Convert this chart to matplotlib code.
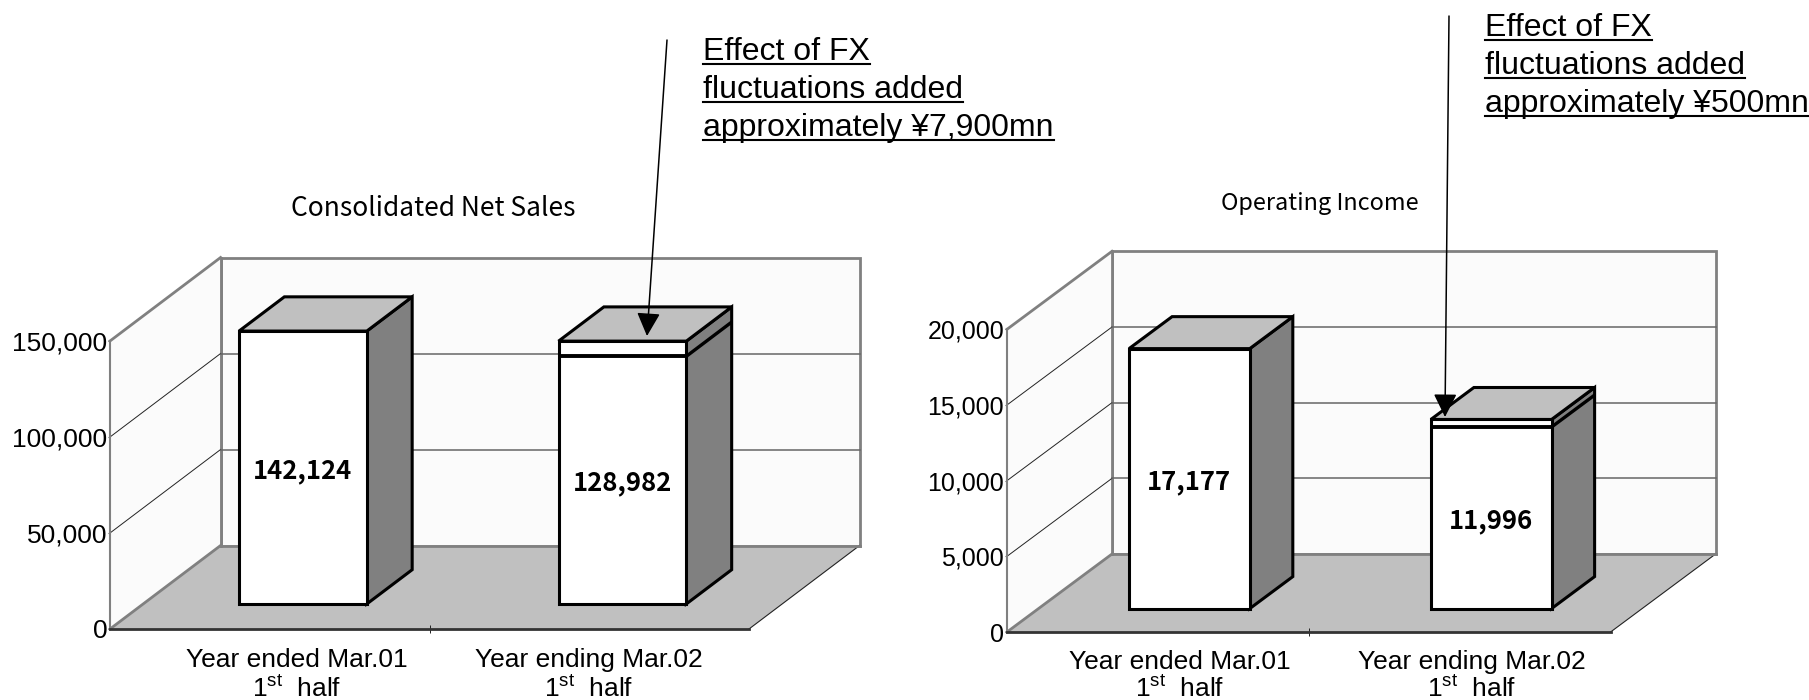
import matplotlib
matplotlib.use("Agg")
import matplotlib.pyplot as plt
from matplotlib.patches import Polygon

plt.rcParams['font.family'] = ['Liberation Sans', 'DejaVu Sans']
plt.rcParams['mathtext.fontset'] = 'custom'
plt.rcParams['mathtext.rm'] = 'Liberation Sans'

WIDTH, HEIGHT = 1809, 700

categories = ["Year ended Mar.01", "Year ending Mar.02"]
sales_base = [142124, 128982]
sales_fx = [0, 7900]
sales_ticks = [0, 50000, 100000, 150000]
income_base = [17177, 11996]
income_fx = [0, 500]
income_ticks = [0, 5000, 10000, 15000, 20000]

WALL = '#fbfbfb'
FLOOR = '#c0c0c0'
SIDE = '#808080'
EDGE = '#808080'
CJK = ['Noto Sans CJK JP', 'DejaVu Sans']

fig = plt.figure(figsize=(WIDTH / 100, HEIGHT / 100), dpi=100, facecolor='white')


def fig_xy(px, py):
    # pixel position measured from the top left corner
    return px / WIDTH, 1 - py / HEIGHT


def make_chart(base, fx, ticks, left, right_front, right_back, y0, y_top_tick, y_wall_top, depth_y, tick_size):
    vmax = ticks[-1]
    px_per_value = (y0 - y_top_tick) / vmax
    px_per_cat = (right_front - left) / 2
    ax = fig.add_axes([left / WIDTH, 1 - y0 / HEIGHT, (right_back - left) / WIDTH, (y0 - y_wall_top) / HEIGHT])
    ax.set_xlim(0, (right_back - left) / px_per_cat)
    ax.set_ylim(0, (y0 - y_wall_top) / px_per_value)
    ax.patch.set_visible(False)

    # oblique projection: depth 0 is the front plane, depth 1 the back wall
    dx = (right_back - right_front) / px_per_cat
    dy = depth_y / px_per_value

    def pt(x, v, d):
        return x + d * dx, v + d * dy

    def face(points, fc, ec='none', lw=0, z=1):
        ax.add_patch(Polygon([pt(*p) for p in points], closed=True, facecolor=fc, edgecolor=ec,
                             linewidth=lw, zorder=z, joinstyle='miter', clip_on=False))

    def seg(a, b, color, lw, z=2, cap='projecting'):
        pa, pb = pt(*a), pt(*b)
        ax.plot([pa[0], pb[0]], [pa[1], pb[1]], color=color, lw=lw, zorder=z, clip_on=False,
                solid_capstyle=cap)

    # walls and floor
    face([(0, 0, 1), (2, 0, 1), (2, vmax, 1), (0, vmax, 1)], WALL, EDGE, 2.0)
    face([(0, 0, 0), (0, 0, 1), (0, vmax, 1), (0, vmax, 0)], WALL)
    face([(0, 0, 0), (2, 0, 0), (2, 0, 1), (0, 0, 1)], FLOOR)
    seg((0, 0, 0), (0, 0, 1), EDGE, 2.0)
    seg((0, vmax, 0), (0, vmax, 1), EDGE, 2.0)
    seg((0, 0, 1), (0, vmax, 1), EDGE, 2.0)
    seg((2, 0, 0), (2, 0, 1), '#222222', 0.8)
    seg((0, 0, 1), (2, 0, 1), EDGE, 2.0)

    for t in ticks[1:-1]:
        seg((0, t, 0), (0, t, 1), '#222222', 0.7)
        seg((0, t, 1), (2, t, 1), '#666666', 1.1)

    # bars, with the FX part stacked on top of the base value
    bar_w = 0.4
    d0, d1 = 0.30, 0.71
    for i in range(2):
        xl = i + 0.5 - bar_w / 2
        xr = i + 0.5 + bar_w / 2
        total = base[i] + fx[i]
        face([(xr, 0, d0), (xr, 0, d1), (xr, total, d1), (xr, total, d0)], SIDE, 'black', 2.2, 4)
        face([(xl, total, d0), (xr, total, d0), (xr, total, d1), (xl, total, d1)], FLOOR, 'black', 2.2, 4)
        face([(xl, 0, d0), (xr, 0, d0), (xr, total, d0), (xl, total, d0)], 'white', 'black', 2.2, 5)
        if fx[i]:
            seg((xl, base[i], d0), (xr, base[i], d0), 'black', 2.8, 6, 'butt')
            seg((xr, base[i], d0), (xr, base[i], d1), 'black', 2.4, 6, 'butt')
        ax.annotate(f"{base[i]:,}", pt(i + 0.5, base[i] / 2, d0), xytext=(0, -2.2), textcoords='offset points',
                    ha='center', va='center', fontsize=18.5, fontweight='bold', family=CJK, zorder=7)

    # front axes
    for name in ('top', 'right'):
        ax.spines[name].set_visible(False)
    ax.spines['left'].set_color(EDGE)
    ax.spines['left'].set_linewidth(1.5)
    ax.spines['left'].set_bounds(0, vmax)
    ax.spines['bottom'].set_color('#333333')
    ax.spines['bottom'].set_linewidth(2.0)
    ax.spines['bottom'].set_bounds(0, 2)
    ax.spines['bottom'].set_zorder(3)
    ax.set_xticks([1])
    ax.set_xticklabels([''])
    ax.tick_params(axis='x', direction='inout', length=6, width=0.7, color='#222222')
    ax.set_yticks(ticks)
    ax.set_yticklabels([f"{t:,}" for t in ticks], fontsize=tick_size)
    ax.tick_params(axis='y', length=1.5, width=0.8, color='#555555', pad=0.5)
    return ax


def category_labels(centers, y1, y2):
    for name, cx in zip(categories, centers):
        x, y = fig_xy(cx, y1)
        fig.text(x, y, name, ha='center', va='center', fontsize=19)
    for cx in centers:
        x, y = fig_xy(cx, y2)
        fig.text(x, y, r"1$^{\mathrm{st}}$  half", ha='center', va='baseline', fontsize=19)


def fx_note(lines, x, baselines, start, tip):
    renderer = fig.canvas.get_renderer()
    for line, by in zip(lines, baselines):
        fx_, fy_ = fig_xy(x, by)
        txt = fig.text(fx_, fy_, line, ha='left', va='baseline', fontsize=23)
        w = txt.get_window_extent(renderer).width
        uy = fig_xy(0, by + 4)[1]
        fig.add_artist(plt.Line2D([x / WIDTH, (x + w) / WIDTH], [uy, uy], color='black', lw=1.5))
    fig.add_artist(matplotlib.patches.FancyArrowPatch(
        fig_xy(*start), fig_xy(*tip), transform=fig.transFigure, shrinkA=0, shrinkB=0,
        arrowstyle='-|>,head_length=1.0,head_width=0.5', mutation_scale=14.4,
        color='black', lw=1.1, zorder=10))


make_chart(sales_base, sales_fx, sales_ticks, 110, 749, 859.6, 629, 341, 258, 83.5, 19)
make_chart(income_base, income_fx, income_ticks, 1007, 1610.6, 1715.6, 632, 329.3, 252, 78, 18)

category_labels([296.5, 589], 660, 697)
category_labels([1180, 1472], 662, 697)

tx, ty = fig_xy(433, 208)
fig.text(tx, ty, "Consolidated Net Sales", ha='center', va='center', fontsize=19, family=CJK)
tx, ty = fig_xy(1320, 204)
fig.text(tx, ty, "Operating Income", ha='center', va='center', fontsize=16.9, family=CJK)

fx_note(["Effect of FX", "fluctuations added", "approximately ¥7,900mn"], 703, [60, 98, 136],
        (667, 40), (647, 336))
fx_note(["Effect of FX", "fluctuations added", "approximately ¥500mn"], 1485, [36, 74, 112],
        (1449, 16), (1445, 417))

fig.savefig("out.png", dpi=100)
